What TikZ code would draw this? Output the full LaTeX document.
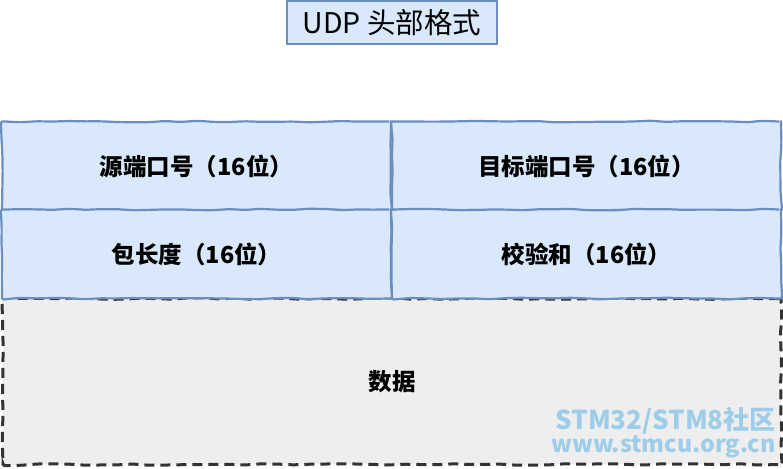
\documentclass[tikz,border=0pt]{standalone}
\usepackage{fontspec}
\setmainfont{Noto Sans CJK SC}
\usetikzlibrary{decorations.pathmorphing}
\usetikzlibrary{positioning}

\definecolor{cellblue}{HTML}{6C8EBF}
\definecolor{cellfill}{HTML}{DAE8FC}
\definecolor{datafill}{HTML}{EEEEEE}
\definecolor{dataline}{HTML}{333333}
\definecolor{markblue}{HTML}{9DCDE8}

\tikzset{
    sketchy/.style={decorate, decoration={random steps, segment length=16pt, amplitude=0.8pt}, rounded corners=2pt},
    titlebox/.style={draw=cellblue, fill=cellfill, line width=1.2pt, minimum width=210pt, minimum height=43pt, inner sep=0pt, font=\fontsize{28.5}{30}\selectfont},
    cell/.style={draw=cellblue, fill=cellfill, line width=2.2pt, minimum width=389pt, minimum height=89pt, inner sep=0pt, font=\bfseries\fontsize{23.5}{26}\selectfont, sketchy},
    databox/.style={draw=dataline, fill=datafill, line width=3pt, dash pattern=on 10pt off 6pt, minimum width=778pt, minimum height=166pt, inner sep=0pt, font=\bfseries\fontsize{23.5}{26}\selectfont, sketchy},
    watermark/.style={text=markblue, inner sep=0pt, anchor=east, font=\bfseries\fontsize{26}{28}\selectfont}
}

\begin{document}
\begin{tikzpicture}[x=1pt, y=-1pt]
    \pgfmathsetseed{7}
    \useasboundingbox (0, 0) rectangle (783, 468);

    % Title
    \node[titlebox] (title) at (392, 22.5) {UDP 头部格式};

    % Data
    \node[databox] (data) at (392, 381.5) {数据};

    % Header fields
    \node[cell] (srcport) at (196.5, 166) {源端口号（16位）};
    \node[cell] (dstport) at (586.5, 166) {目标端口号（16位）};
    \node[cell] (length) at (196.5, 254) {包长度（16位）};
    \node[cell] (checksum) at (586.5, 254) {校验和（16位）};

    % Watermark
    \node[watermark] (site) at (776, 421) {STM32/STM8社区};
    \node[watermark, font=\bfseries\fontsize{23.3}{26}\selectfont] (url) at (776, 447) {www.stmcu.org.cn};
\end{tikzpicture}
\end{document}
